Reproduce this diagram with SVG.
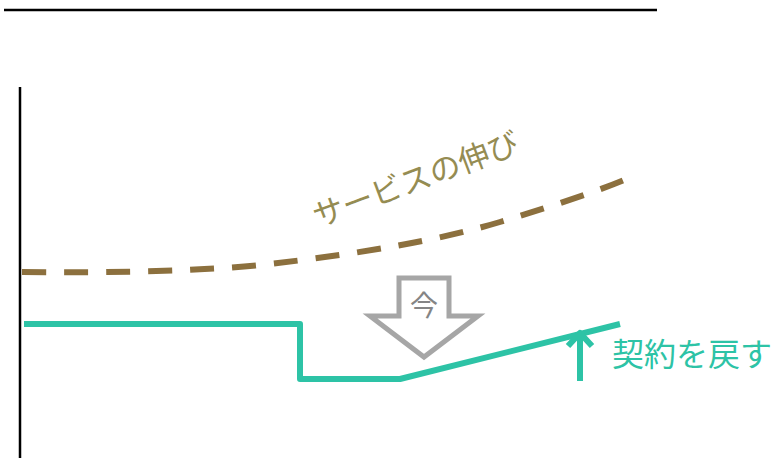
<svg xmlns="http://www.w3.org/2000/svg" width="773" height="458" viewBox="0 0 773 458">
<style>
.axis{stroke:#000;stroke-width:2.5;fill:none}
.svc{stroke:#8c703e;stroke-width:6;fill:none;stroke-dasharray:24 18}
.con{stroke:#2dc3a6;stroke-width:6;fill:none;stroke-linejoin:round}
.now{stroke:#a6a6a6;stroke-width:5;fill:#fff;stroke-linejoin:miter}
text{font-family:"Noto Sans CJK JP","Noto Sans",sans-serif}
</style>
<rect width="773" height="458" fill="#fff"/>
<g id="axes">
<line class="axis" x1="4" y1="10" x2="657" y2="10"/>
<line class="axis" x1="20" y1="87" x2="20" y2="458"/>
</g>
<g id="connectors">
<path class="svc" d="M22,272 C120,273 200,271 260,265 C360,254 440,240 500,222 C560,204 600,190 624,180"/>
<path class="con" d="M24,324 H300 V379 H400 L620,324"/>
<path class="con" d="M580,381 V333 M568,346 L580,333 L592,346"/>
</g>
<g id="service-label">
<text x="318" y="228" font-size="31" fill="#958c52" transform="rotate(-20.5 318 228)">サービスの伸び</text>
</g>
<g id="now-arrow">
<polygon class="now" points="399,278 449,278 449,316 478,316 424,357 370,316 399,316"/>
<text x="424" y="316" font-size="28" fill="#858585" text-anchor="middle">今</text>
</g>
<g id="contract-label">
<text x="612" y="366" font-size="32" fill="#2dc3a6">契約を戻す</text>
</g>
</svg>
